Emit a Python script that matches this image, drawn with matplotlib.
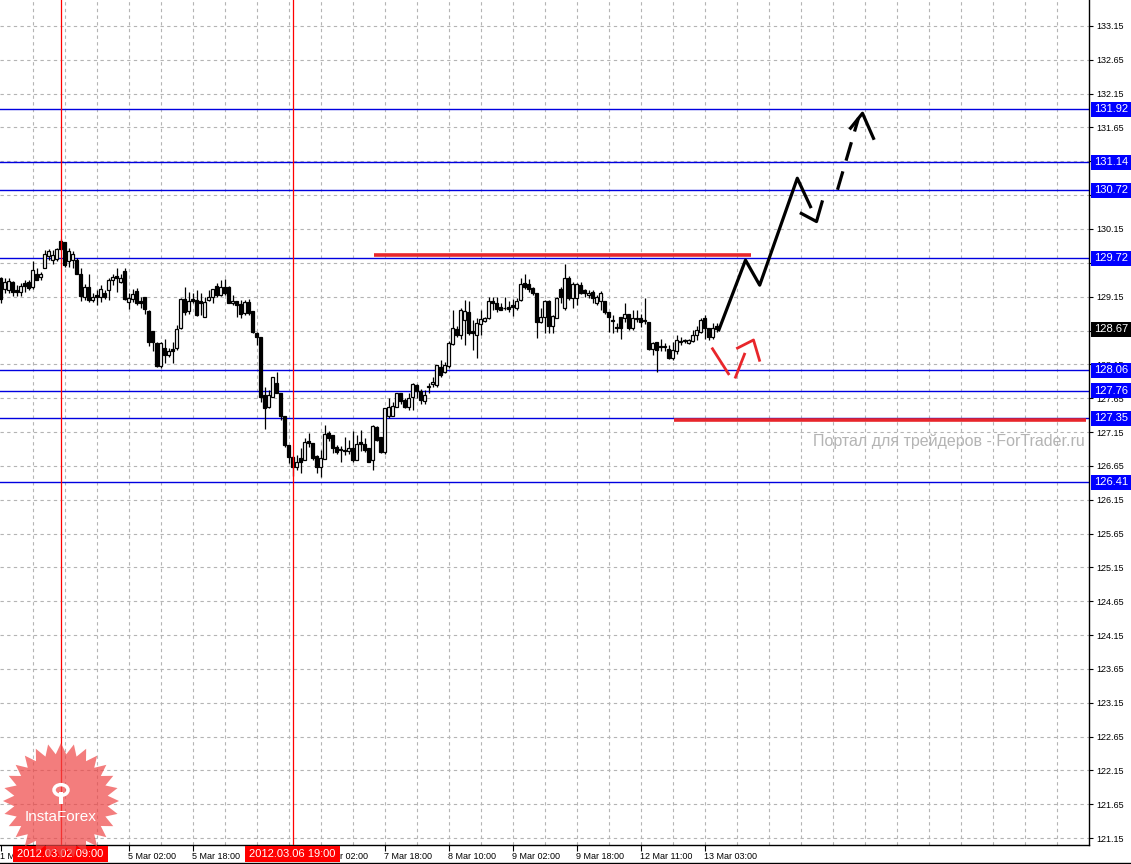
import numpy as np
import matplotlib
matplotlib.use('Agg')
import matplotlib.pyplot as plt
from matplotlib.patches import Rectangle, Polygon, Circle
import matplotlib.transforms as mtrans

plt.rcParams['font.family'] = ['Liberation Sans', 'DejaVu Sans']

# USDJPY-like H1 bars, bar 0 = 1 Mar 18:00
opens = [129.43, 129.26, 129.25, 129.36, 129.25, 129.22, 129.35, 129.37, 129.30, 129.48,
         129.44, 129.58, 129.75, 129.69, 129.71, 129.97, 129.96, 129.68, 129.69, 129.69,
         129.48, 129.15, 129.30, 129.10, 129.17, 129.15, 129.20, 129.25, 129.39, 129.46,
         129.37, 129.53, 129.07, 129.12, 129.23, 129.08, 129.15, 128.94, 128.64, 128.47,
         128.12, 128.39, 128.29, 128.38, 128.39, 128.68, 129.11, 128.94, 129.11, 129.10,
         129.08, 128.85, 129.10, 129.14, 129.31, 129.17, 129.30, 129.30, 129.05, 129.09,
         129.04, 128.91, 129.07, 128.94, 128.61, 128.56, 127.70, 127.52, 127.66, 127.88,
         127.72, 127.39, 126.96, 126.78, 126.64, 126.76, 126.74, 127.02, 126.99, 126.79,
         126.64, 126.75, 127.14, 127.11, 126.93, 126.90, 126.89, 126.87, 126.92, 126.74,
         127.00, 126.98, 126.91, 126.74, 127.23, 127.07, 126.85, 127.38, 127.39, 127.52,
         127.73, 127.63, 127.52, 127.66, 127.84, 127.76, 127.61, 127.82, 127.86, 127.85,
         128.11, 128.04, 128.12, 128.45, 128.67, 128.58, 128.80, 128.92, 128.64, 128.58,
         128.74, 128.79, 128.83, 129.09, 129.05, 128.99, 128.98, 128.99, 129.02, 128.98,
         129.10, 129.35, 129.33, 129.28, 129.20, 128.78, 128.85, 129.08, 128.71, 128.83,
         129.27, 128.98, 129.43, 129.13, 129.13, 129.32, 129.25, 129.17, 129.22, 129.05,
         129.08, 129.08, 128.93, 128.80, 128.70, 128.85, 128.83, 128.89, 128.68, 128.82,
         128.83, 128.80, 128.78, 128.38, 128.48, 128.42, 128.40, 128.38, 128.24, 128.34,
         128.48, 128.50, 128.47, 128.50, 128.58, 128.63, 128.83, 128.68, 128.56, 128.71]
highs = [129.44, 129.43, 129.43, 129.38, 129.32, 129.35, 129.39, 129.39, 129.67, 129.57,
         129.52, 129.84, 129.86, 129.84, 129.87, 130.00, 129.96, 129.87, 129.82, 129.72,
         129.57, 129.33, 129.49, 129.20, 129.25, 129.32, 129.25, 129.42, 129.48, 129.57,
         129.48, 129.57, 129.20, 129.27, 129.28, 129.15, 129.15, 128.96, 128.65, 128.48,
         128.48, 128.53, 128.39, 128.48, 128.73, 129.13, 129.30, 129.22, 129.20, 129.25,
         129.21, 129.15, 129.25, 129.27, 129.35, 129.40, 129.41, 129.31, 129.17, 129.09,
         129.10, 129.10, 129.11, 128.94, 128.63, 128.56, 127.82, 127.77, 127.96, 128.04,
         127.72, 127.39, 126.96, 126.80, 126.81, 126.92, 127.06, 127.13, 126.99, 126.81,
         126.88, 127.25, 127.17, 127.11, 126.96, 126.94, 127.08, 127.03, 127.16, 127.11,
         127.18, 127.06, 126.91, 127.25, 127.24, 127.07, 127.50, 127.65, 127.60, 127.73,
         127.73, 127.65, 127.72, 127.87, 127.86, 127.78, 127.77, 127.87, 127.97, 128.14,
         128.21, 128.19, 128.49, 128.95, 128.71, 128.98, 129.10, 129.08, 128.81, 128.83,
         128.95, 128.85, 129.14, 129.14, 129.14, 129.05, 129.14, 129.08, 129.12, 129.13,
         129.42, 129.49, 129.41, 129.30, 129.20, 128.98, 129.10, 129.10, 128.88, 129.15,
         129.30, 129.63, 129.46, 129.37, 129.35, 129.37, 129.27, 129.25, 129.25, 129.18,
         129.23, 129.08, 128.93, 128.88, 128.76, 128.85, 129.05, 128.90, 128.95, 128.95,
         128.90, 129.13, 128.78, 128.48, 128.48, 128.53, 128.46, 128.44, 128.48, 128.58,
         128.56, 128.53, 128.53, 128.66, 128.71, 128.83, 128.88, 128.69, 128.76, 128.76]
lows = [129.05, 129.21, 129.21, 129.16, 129.16, 129.16, 129.22, 129.25, 129.27, 129.39,
        129.39, 129.57, 129.69, 129.64, 129.68, 129.84, 129.59, 129.59, 129.58, 129.48,
        129.08, 129.10, 129.07, 129.07, 129.02, 129.07, 129.12, 129.10, 129.32, 129.22,
        129.35, 129.10, 128.97, 129.07, 129.02, 128.98, 128.90, 128.42, 128.34, 128.11,
        128.10, 128.17, 128.26, 128.17, 128.36, 128.67, 128.88, 128.90, 129.05, 128.87,
        128.88, 128.85, 129.08, 129.05, 129.15, 129.16, 129.17, 129.05, 129.03, 128.85,
        128.84, 128.88, 128.88, 128.61, 128.43, 127.60, 127.19, 127.50, 127.66, 127.72,
        127.33, 126.93, 126.69, 126.50, 126.59, 126.54, 126.74, 126.93, 126.74, 126.54,
        126.49, 126.75, 127.01, 126.84, 126.83, 126.71, 126.81, 126.82, 126.71, 126.74,
        126.87, 126.86, 126.70, 126.59, 127.01, 126.84, 126.82, 127.35, 127.38, 127.52,
        127.57, 127.50, 127.48, 127.48, 127.65, 127.57, 127.57, 127.72, 127.82, 127.82,
        127.97, 128.02, 128.09, 128.44, 128.56, 128.53, 128.44, 128.58, 128.36, 128.25,
        128.58, 128.78, 128.82, 128.95, 128.93, 128.95, 128.95, 128.93, 128.87, 128.95,
        129.08, 129.27, 129.22, 129.18, 128.54, 128.76, 128.61, 128.61, 128.61, 128.83,
        129.05, 128.95, 129.10, 128.98, 129.03, 129.19, 129.15, 129.13, 129.05, 129.03,
        128.95, 128.90, 128.63, 128.61, 128.63, 128.53, 128.78, 128.66, 128.66, 128.78,
        128.70, 128.75, 128.36, 128.29, 128.04, 128.34, 128.34, 128.23, 128.21, 128.31,
        128.44, 128.46, 128.45, 128.48, 128.51, 128.61, 128.53, 128.51, 128.53, 128.63]
closes = [129.12, 129.37, 129.38, 129.22, 129.22, 129.31, 129.31, 129.28, 129.55, 129.40,
          129.48, 129.78, 129.83, 129.76, 129.86, 129.86, 129.62, 129.82, 129.78, 129.48,
          129.16, 129.30, 129.10, 129.15, 129.15, 129.27, 129.15, 129.40, 129.44, 129.43,
          129.43, 129.12, 129.13, 129.19, 129.06, 129.06, 128.97, 128.48, 128.48, 128.12,
          128.47, 128.29, 128.34, 128.34, 128.67, 129.12, 128.93, 129.08, 129.08, 128.88,
          129.05, 129.07, 129.15, 129.27, 129.17, 129.30, 129.20, 129.05, 129.09, 129.03,
          128.90, 129.07, 128.91, 128.63, 128.56, 127.67, 127.50, 127.70, 127.96, 127.72,
          127.38, 126.96, 126.78, 126.64, 126.71, 126.70, 127.00, 126.99, 126.76, 126.64,
          126.76, 127.12, 127.06, 126.91, 126.86, 126.88, 126.87, 126.92, 126.74, 126.98,
          126.98, 126.88, 126.71, 127.24, 127.03, 126.86, 127.50, 127.52, 127.53, 127.72,
          127.61, 127.52, 127.65, 127.86, 127.76, 127.62, 127.70, 127.83, 127.89, 128.14,
          127.99, 128.14, 128.46, 128.68, 128.58, 128.95, 128.94, 128.61, 128.61, 128.76,
          128.82, 128.84, 129.09, 129.05, 128.97, 128.96, 128.98, 128.97, 129.00, 129.09,
          129.33, 129.30, 129.26, 129.20, 128.78, 128.85, 129.08, 128.71, 128.86, 129.13,
          129.14, 129.42, 129.13, 129.33, 129.33, 129.21, 129.21, 129.21, 129.13, 129.15,
          129.21, 128.93, 128.85, 128.79, 128.68, 128.68, 128.89, 128.68, 128.83, 128.83,
          128.78, 128.79, 128.37, 128.46, 128.36, 128.41, 128.42, 128.24, 128.36, 128.51,
          128.50, 128.51, 128.51, 128.58, 128.66, 128.80, 128.68, 128.56, 128.68, 128.67]

# time axis labels (every 16 bars); two of them sit under the red time boxes
label_bars = [0, 16, 32, 48, 64, 80, 96, 112, 128, 144, 160, 176]
label_text = ['1 Mar 18:00', '', '5 Mar 02:00', '5 Mar 18:00', '',
              '7 Mar 02:00', '7 Mar 18:00', '8 Mar 10:00', '9 Mar 02:00', '9 Mar 18:00',
              '12 Mar 11:00', '13 Mar 03:00']

# price scale, labels hidden under level boxes left out
price_ticks = [121.15, 121.65, 122.15, 122.65, 123.15, 123.65, 124.15, 124.65, 125.15,
               125.65, 126.15, 126.65, 127.15, 127.65, 128.15, 128.65, 129.15, 129.65,
               130.15, 130.65, 131.15, 131.65, 132.15, 132.65, 133.15]
hidden_ticks = [128.65, 129.65, 130.65, 131.15]

# levels
level_prices = [131.92, 131.14, 130.72, 129.72, 128.06, 127.76, 127.35, 126.41]
last_price = 128.67

# vertical markers
vline_bars = [15, 73]
vline_text = ['2012.03.02 09:00', '2012.03.06 19:00']

# hand drawn forecast (bar, price)
black_path_x = [179.6, 186.25, 189.8, 199.2, 202.5]
black_path_y = [128.66, 129.69, 129.32, 130.90, 130.48]
black_head_x = [200.2, 204.0, 205.4]
black_head_y = [130.38, 130.26, 130.55]
dash_x = [209.25, 214.5]
dash_y = [130.73, 131.79]
dash_head_x = [212.5, 215.5, 218.25]
dash_head_y = [131.64, 131.86, 131.49]
red_a_x = [178.0, 182.0]
red_a_y = [128.38, 128.01]
red_b_x = [183.75, 186.0]
red_b_y = [127.96, 128.30]
red_c_x = [184.25, 188.25, 189.75]
red_c_y = [128.39, 128.51, 128.21]
res_line = (93.25, 187.5, 129.76)
sup_line = (168.25, 271.25, 127.33)

W, H = 1131, 864
fig = plt.figure(figsize=(W / 100, H / 100), dpi=100)
fig.patch.set_facecolor('white')
ax = fig.add_axes([0, 19 / H, 1089 / W, 845 / H])
ax.set_xlim(-0.125, 272.125)
ax.set_ylim(121.047, 133.534)

# grid
for p in price_ticks:
    ax.axhline(p, color='#b4b4b4', lw=0.8, ls=(0, (3, 3)), zorder=1)
for b in range(8, 272, 8):
    ax.axvline(b, color='#b4b4b4', lw=0.8, ls=(0, (3, 3)), zorder=1)

# levels
for p in level_prices:
    ax.axhline(p, color='#0000e0', lw=1.0, zorder=2)

# candles
idx = np.arange(len(opens))
o = np.array(opens); c = np.array(closes)
ax.vlines(idx, lows, highs, color='black', lw=0.9, zorder=3)
bull = c >= o
ax.bar(idx[bull], np.maximum(c - o, 0.004)[bull], bottom=o[bull], width=0.55,
       facecolor='white', edgecolor='black', linewidth=0.9, zorder=4)
ax.bar(idx[~bull], (o - c)[~bull], bottom=c[~bull], width=0.55,
       facecolor='black', edgecolor='black', linewidth=0.9, zorder=4)

# vertical red lines
for b in vline_bars:
    ax.axvline(b, color='#ff0000', lw=0.9, zorder=5)

# drawings
ax.plot([res_line[0], res_line[1]], [res_line[2]] * 2, color='#e8262b', lw=2.6, zorder=6,
        solid_capstyle='butt')
ax.plot([sup_line[0], sup_line[1]], [sup_line[2]] * 2, color='#e8262b', lw=2.6, zorder=6,
        solid_capstyle='butt')
for xs, ys in [(red_a_x, red_a_y), (red_b_x, red_b_y), (red_c_x, red_c_y)]:
    ax.plot(xs, ys, color='#e8262b', lw=2.0, zorder=6)
ax.plot(black_path_x, black_path_y, color='black', lw=2.3, zorder=6)
ax.plot(black_head_x, black_head_y, color='black', lw=2.3, zorder=6)
ax.plot(dash_x, dash_y, color='black', lw=2.3, ls=(0, (6, 3.5)), zorder=6)
ax.plot(dash_head_x, dash_head_y, color='black', lw=2.3, zorder=6)

# axes look
for s in ['left', 'top']:
    ax.spines[s].set_visible(False)
for s in ['right', 'bottom']:
    ax.spines[s].set_color('black')
    ax.spines[s].set_linewidth(1.0)
ax.yaxis.tick_right()
ax.set_yticks(price_ticks)
ax.set_yticklabels(['' if v in hidden_ticks else '%.2f' % v for v in price_ticks], fontsize=6.5)
ax.tick_params(axis='y', length=3, width=0.8, pad=2, colors='black')
ax.set_xticks(label_bars)
ax.set_xticklabels(label_text, fontsize=6.5, ha='left')
ax.tick_params(axis='x', length=4, width=0.8, pad=1)

# right axis boxes
tr_y = mtrans.blended_transform_factory(ax.transAxes, ax.transData)
bw = 40 / 1089
bh = 7.5 * 12.487 / 845
for p in level_prices:
    ax.add_patch(Rectangle((1 + 2 / 1089, p - bh), bw, 2 * bh, transform=tr_y,
                           facecolor='#0000ff', edgecolor='none', clip_on=False, zorder=10))
    ax.text(1 + 22 / 1089, p, '%.2f' % p, transform=tr_y, color='white', fontsize=8,
            ha='center', va='center', clip_on=False, zorder=11)
ax.add_patch(Rectangle((1 + 2 / 1089, last_price - bh), bw, 2 * bh, transform=tr_y,
                       facecolor='black', edgecolor='none', clip_on=False, zorder=10))
ax.text(1 + 22 / 1089, last_price, '%.2f' % last_price, transform=tr_y, color='white',
        fontsize=8, ha='center', va='center', clip_on=False, zorder=11)

# bottom red time boxes
tr_x = mtrans.blended_transform_factory(ax.transData, ax.transAxes)
for b, t in zip(vline_bars, vline_text):
    ax.add_patch(Rectangle((b - 11.9, -17 / 845), 23.8, 16 / 845, transform=tr_x,
                           facecolor='#ff0000', edgecolor='none', clip_on=False, zorder=10))
    ax.text(b, -9 / 845, t, transform=tr_x, color='white', fontsize=8, ha='center',
            va='center', clip_on=False, zorder=11)

# watermark
ax.text(1085 / 1089, 1 - 441 / 845, 'Портал для трейдеров - ForTrader.ru', transform=ax.transAxes,
        color='#b4b4b4', fontsize=11.5, ha='right', va='center', zorder=7)

# InstaForex logo
cx, cy = 61 / W, 1 - 801 / H
n = 28
ang = np.linspace(0, 2 * np.pi, 2 * n, endpoint=False) + np.pi / 2
rad = np.where(np.arange(2 * n) % 2 == 0, 58, 47)
pts = np.column_stack([cx + rad * np.cos(ang) / W, cy + rad * np.sin(ang) / H])
fig.add_artist(Polygon(pts, closed=True, transform=fig.transFigure, facecolor='#ef4646',
                       edgecolor='none', alpha=0.7, zorder=20))
fig.add_artist(Circle((cx, cy + 11 / H), 7 / W, transform=fig.transFigure, facecolor='none',
                      edgecolor='white', lw=2.5, zorder=21))
fig.add_artist(Rectangle((cx - 2 / W, cy - 3 / H), 4 / W, 12 / H, transform=fig.transFigure,
                         facecolor='white', edgecolor='none', zorder=21))
fig.text(cx, 1 - 817 / H, 'InstaForex', color='white', fontsize=11, ha='center', va='center',
         zorder=22)

fig.add_artist(plt.Line2D([0, 1], [1.5 / H, 1.5 / H], transform=fig.transFigure, color='black',
                          lw=1.0))

fig.savefig('out.png', dpi=100)
